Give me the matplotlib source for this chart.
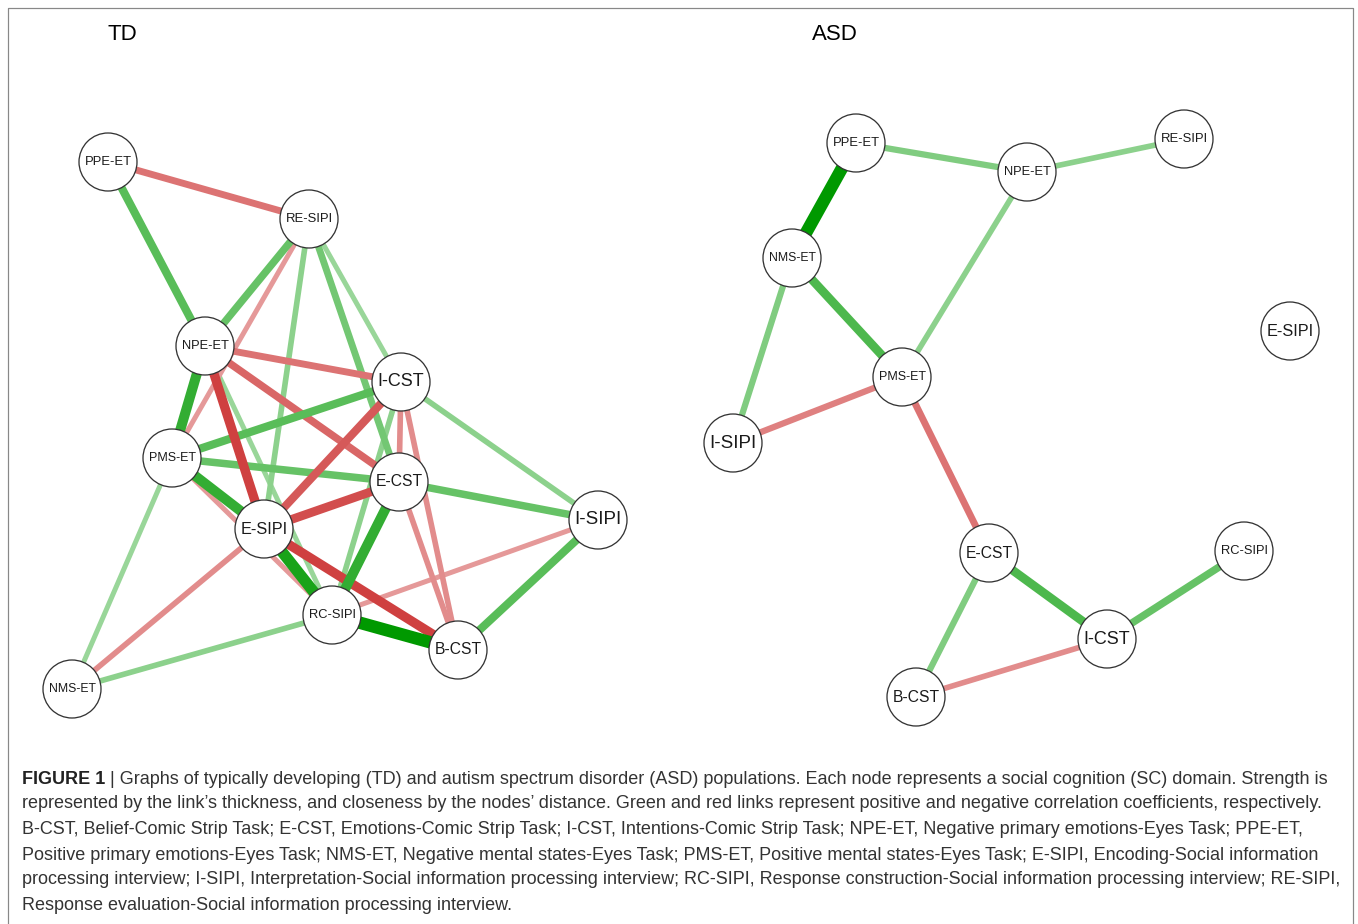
import matplotlib
matplotlib.use('Agg')
import matplotlib.pyplot as plt
from matplotlib.patches import Circle
import numpy as np

# --- data -------------------------------------------------------------
# node layout (picture coordinates) for each group
td_names = ['PPE-ET', 'RE-SIPI', 'NPE-ET', 'I-CST', 'PMS-ET', 'E-CST',
            'I-SIPI', 'E-SIPI', 'RC-SIPI', 'B-CST', 'NMS-ET']
td_x = [108, 309, 205, 401, 172, 399, 598, 264, 332, 458, 72]
td_y = [162, 219, 346, 382, 458, 482, 520, 529, 615, 650, 689]

asd_names = ['PPE-ET', 'NPE-ET', 'RE-SIPI', 'NMS-ET', 'E-SIPI', 'PMS-ET',
             'I-SIPI', 'E-CST', 'RC-SIPI', 'I-CST', 'B-CST']
asd_x = [856, 1027, 1184, 792, 1290, 902, 733, 989, 1244, 1107, 916]
asd_y = [143, 172, 139, 258, 331, 377, 443, 553, 551, 639, 697]

# edges: source, target, relative weight (sign = direction of correlation)
td_src = ['RC-SIPI', 'E-SIPI', 'PMS-ET', 'NPE-ET', 'E-CST', 'PPE-ET', 'PMS-ET',
          'PMS-ET', 'E-CST', 'B-CST', 'RE-SIPI', 'RE-SIPI', 'RE-SIPI', 'RE-SIPI',
          'I-CST', 'NPE-ET', 'I-CST', 'PMS-ET', 'RC-SIPI',
          'E-SIPI', 'NPE-ET', 'E-SIPI', 'I-CST', 'NPE-ET', 'PPE-ET', 'NPE-ET',
          'RE-SIPI', 'PMS-ET', 'E-SIPI', 'RC-SIPI', 'E-CST', 'I-CST', 'I-CST']
td_dst = ['B-CST', 'RC-SIPI', 'E-SIPI', 'PMS-ET', 'RC-SIPI', 'NPE-ET', 'I-CST',
          'E-CST', 'I-SIPI', 'I-SIPI', 'NPE-ET', 'E-CST', 'E-SIPI', 'I-CST',
          'I-SIPI', 'RC-SIPI', 'RC-SIPI', 'NMS-ET', 'NMS-ET',
          'B-CST', 'E-SIPI', 'E-CST', 'E-SIPI', 'E-CST', 'RE-SIPI', 'I-CST',
          'PMS-ET', 'RC-SIPI', 'NMS-ET', 'I-SIPI', 'B-CST', 'B-CST', 'E-CST']
td_w = [1.0, 0.9, 0.8, 0.8, 0.8, 0.65, 0.65,
        0.6, 0.6, 0.65, 0.6, 0.55, 0.45, 0.4,
        0.45, 0.4, 0.45, 0.4, 0.45,
        -0.75, -0.75, -0.7, -0.65, -0.6, -0.55, -0.55,
        -0.4, -0.4, -0.45, -0.4, -0.45, -0.45, -0.45]

asd_src = ['PPE-ET', 'NMS-ET', 'PMS-ET', 'NMS-ET', 'PMS-ET', 'PMS-ET',
           'PPE-ET', 'NPE-ET', 'E-CST', 'I-CST', 'E-CST', 'B-CST']
asd_dst = ['NMS-ET', 'PMS-ET', 'NPE-ET', 'I-SIPI', 'I-SIPI', 'E-CST',
           'NPE-ET', 'RE-SIPI', 'I-CST', 'RC-SIPI', 'B-CST', 'I-CST']
asd_w = [1.0, 0.7, 0.45, 0.5, -0.5, -0.55,
         0.5, 0.45, 0.7, 0.6, 0.5, -0.45]

caption_lines = [
    ' | Graphs of typically developing (TD) and autism spectrum disorder (ASD) populations. Each node represents a social cognition (SC) domain. Strength is',
    'represented by the link\u2019s thickness, and closeness by the nodes\u2019 distance. Green and red links represent positive and negative correlation coefficients, respectively.',
    'B-CST, Belief-Comic Strip Task; E-CST, Emotions-Comic Strip Task; I-CST, Intentions-Comic Strip Task; NPE-ET, Negative primary emotions-Eyes Task; PPE-ET,',
    'Positive primary emotions-Eyes Task; NMS-ET, Negative mental states-Eyes Task; PMS-ET, Positive mental states-Eyes Task; E-SIPI, Encoding-Social information',
    'processing interview; I-SIPI, Interpretation-Social information processing interview; RC-SIPI, Response construction-Social information processing interview; RE-SIPI,',
    'Response evaluation-Social information processing interview.',
]

# --- figure -----------------------------------------------------------
W, H = 1358, 924
fig = plt.figure(figsize=(W / 100, H / 100), dpi=100)
ax = fig.add_axes([0, 0, 1, 1])
ax.set_xlim(0, W)
ax.set_ylim(H, 0)
ax.axis('off')
renderer = fig.canvas.get_renderer()

POS = np.array([0, 153, 0]) / 255
NEG = np.array([191, 0, 0]) / 255
px = 72 / 100  # pixels -> points


def edge_color(w):
    base = POS if w > 0 else NEG
    a = abs(w)
    return tuple(1 - a * (1 - base))


def draw_graph(names, xs, ys, src, dst, wts):
    pos = {n: (x, y) for n, x, y in zip(names, xs, ys)}
    order = np.argsort(np.abs(wts))
    for i in order:
        (x1, y1), (x2, y2) = pos[src[i]], pos[dst[i]]
        ax.plot([x1, x2], [y1, y2], color=edge_color(wts[i]),
                lw=max(3.8, 12.5 * abs(wts[i])) * px, solid_capstyle='butt', zorder=2)
    for n in names:
        x, y = pos[n]
        ax.add_patch(Circle((x, y), 29, facecolor='white', edgecolor='#333333',
                            lw=1.3 * px, zorder=5))
        t = ax.text(x, y, n, ha='center', va='center', fontsize=10,
                    family='Liberation Sans', color='#1a1a1a', zorder=6)
        bw = t.get_window_extent(renderer).width
        t.set_fontsize(min(10 * 47 / bw, 14))


draw_graph(td_names, td_x, td_y, td_src, td_dst, td_w)
draw_graph(asd_names, asd_x, asd_y, asd_src, asd_dst, asd_w)

ax.text(122, 34, 'TD', ha='center', va='center', fontsize=16, family='Liberation Sans')
ax.text(835, 34, 'ASD', ha='center', va='center', fontsize=16, family='Liberation Sans')

# outer frame
ax.plot([8, 8, 1353, 1353], [H + 5, 8, 8, H + 5], color='#888888', lw=1.2 * px, zorder=1)

# caption: one font size so that the widest line ends near x=1343
cap_font = 'Liberation Sans'
widths = []
for k, s in enumerate(caption_lines):
    p = ax.text(0, 0, s, fontsize=12, family=cap_font)
    wdt = p.get_window_extent(renderer).width
    p.remove()
    if k == 0:
        p = ax.text(0, 0, 'FIGURE 1', fontsize=12, family=cap_font, weight='bold')
        wdt += p.get_window_extent(renderer).width
        p.remove()
    widths.append(wdt)
fs = 12 * 1321 / max(widths)

line_y = [779, 804, 829, 855, 880, 905]
b = ax.text(22, line_y[0], 'FIGURE 1', fontsize=fs, family=cap_font, weight='bold',
            va='center', color='#222222')
bx = b.get_window_extent(renderer).x1
ax.text(bx, line_y[0], caption_lines[0], fontsize=fs, family=cap_font,
        va='center', color='#333333')
for s, y in zip(caption_lines[1:], line_y[1:]):
    ax.text(22, y, s, fontsize=fs, family=cap_font, va='center', color='#333333')

fig.savefig('out.png', dpi=100)
